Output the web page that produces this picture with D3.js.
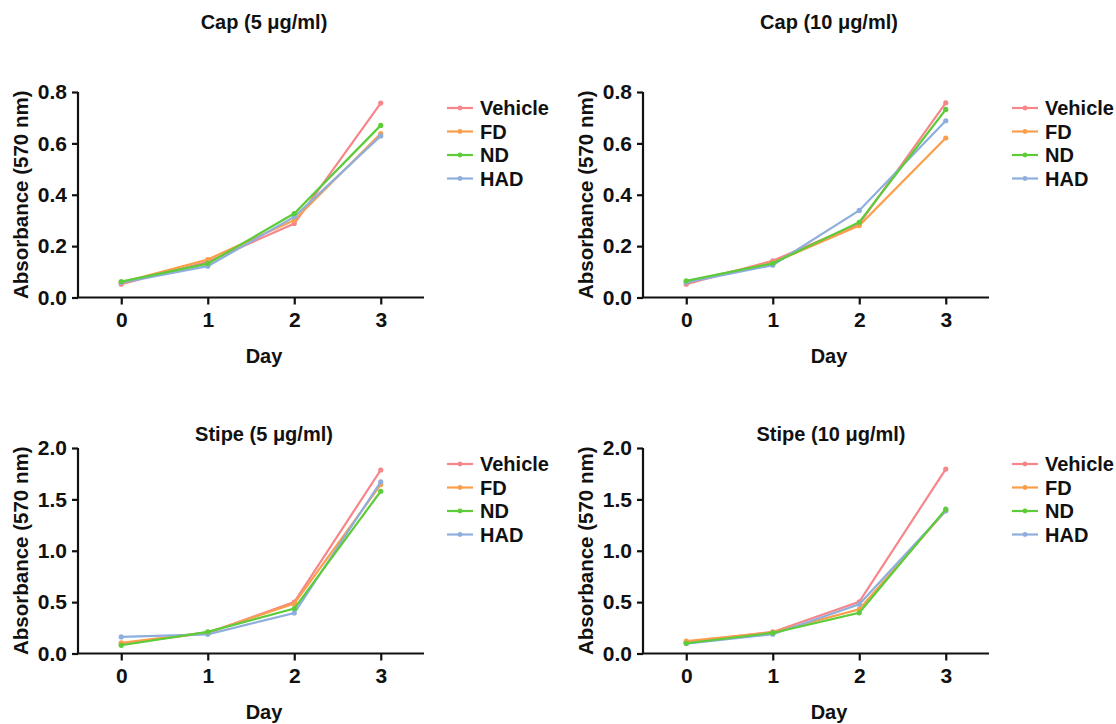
<!DOCTYPE html>
<html><head><meta charset="utf-8">
<script src="https://cdn.jsdelivr.net/npm/d3@7"></script>
<style>
body{margin:0;background:#fff;}
text{font-family:"Liberation Sans",Arial,sans-serif;font-weight:bold;fill:#111;}
</style></head>
<body><svg id="c" width="1116" height="724"></svg>
<script>
const days = [0, 1, 2, 3];
const seriesNames = ["Vehicle", "FD", "ND", "HAD"];
const colors = ["#f7868a", "#fb9e4c", "#5ccc38", "#8eaedd"];
const panelTitles = ["Cap (5 μg/ml)", "Cap (10 μg/ml)", "Stipe (5 μg/ml)", "Stipe (10 μg/ml)"];
const yMaxes = [0.8, 0.8, 2.0, 2.0];
const yTicksCap = [0, 0.2, 0.4, 0.6, 0.8];
const yTicksStipe = [0, 0.5, 1.0, 1.5, 2.0];

// values per panel: [Vehicle, FD, ND, HAD]
const cap5 = [
  [0.052, 0.139, 0.288, 0.757],
  [0.058, 0.148, 0.301, 0.638],
  [0.062, 0.132, 0.327, 0.670],
  [0.058, 0.122, 0.314, 0.629]
];
const cap10 = [
  [0.052, 0.143, 0.287, 0.758],
  [0.062, 0.135, 0.280, 0.621],
  [0.065, 0.133, 0.293, 0.732],
  [0.059, 0.126, 0.339, 0.688]
];
const stipe5 = [
  [0.096, 0.200, 0.500, 1.786],
  [0.103, 0.205, 0.485, 1.644],
  [0.080, 0.210, 0.437, 1.579],
  [0.161, 0.187, 0.394, 1.670]
];
const stipe10 = [
  [0.110, 0.210, 0.503, 1.795],
  [0.120, 0.205, 0.430, 1.390],
  [0.100, 0.200, 0.396, 1.405],
  [0.097, 0.188, 0.480, 1.389]
];

const panelData = [cap5, cap10, stipe5, stipe10];
const panelTicks = [yTicksCap, yTicksCap, yTicksStipe, yTicksStipe];
const origins = [[0, 0], [565, 0], [0, 356], [565, 356]];
const titleY = [22, 22, 78, 78];
const titleX = [264, 264, 264, 266];

const svg = d3.select("#c");
const drawOrder = [0, 1, 3, 2];

panelData.forEach((data, p) => {
  const [ox, oy] = origins[p];
  const g = svg.append("g").attr("transform", `translate(${ox},${oy})`);
  const x = d3.scaleLinear().domain([-0.5, 3.5]).range([78, 424]);
  const y = d3.scaleLinear().domain([0, yMaxes[p]]).range([297.5, 92]);

  const yAx = g.append("g").attr("transform", "translate(78,0)")
    .call(d3.axisLeft(y).tickValues(panelTicks[p]).tickFormat(d3.format(".1f")).tickSize(6).tickPadding(5));
  const xAx = g.append("g").attr("transform", "translate(0,297.5)")
    .call(d3.axisBottom(x).tickValues(days).tickFormat(d3.format("d")).tickSize(7).tickPadding(8));
  [yAx, xAx].forEach(a => {
    a.select(".domain").attr("stroke", "#111").attr("stroke-width", 2.2);
    a.selectAll(".tick line").attr("stroke", "#111").attr("stroke-width", 2.2);
    a.selectAll(".tick text").attr("font-size", 21).attr("fill", "#111")
      .style("font-family", "'Liberation Sans',Arial,sans-serif").style("font-weight", "bold");
  });
  yAx.select(".domain").attr("d", "M0,297.5V92");
  xAx.select(".domain").attr("d", `M78,0H424`);

  g.append("text").attr("x", titleX[p]).attr("y", titleY[p]).attr("dy", "0.35em")
    .attr("text-anchor", "middle").attr("font-size", 20).text(panelTitles[p]);
  g.append("text").attr("x", 264).attr("y", 356).attr("dy", "0.35em")
    .attr("text-anchor", "middle").attr("font-size", 20).text("Day");
  g.append("text").attr("transform", `translate(21,${(92 + 297.5) / 2}) rotate(-90)`)
    .attr("dy", "0.35em").attr("text-anchor", "middle").attr("font-size", 20.5)
    .text("Absorbance (570 nm)");

  const line = d3.line().x((d, i) => x(days[i])).y(d => y(d));
  drawOrder.forEach(s => {
    g.append("path").datum(data[s]).attr("d", line)
      .attr("fill", "none").attr("stroke", colors[s]).attr("stroke-width", 2.2);
    g.selectAll(null).data(data[s]).enter().append("circle")
      .attr("cx", (d, i) => x(days[i])).attr("cy", d => y(d)).attr("r", 2.6)
      .attr("fill", colors[s]);
  });

  const leg = g.append("g");
  seriesNames.forEach((n, i) => {
    const ly = 108 + i * 23.5;
    leg.append("line").attr("x1", 447).attr("x2", 473).attr("y1", ly).attr("y2", ly)
      .attr("stroke", colors[i]).attr("stroke-width", 2.2);
    leg.append("circle").attr("cx", 460).attr("cy", ly).attr("r", 2.4).attr("fill", colors[i]);
    leg.append("text").attr("x", 480).attr("y", ly).attr("dy", "0.36em")
      .attr("font-size", 20).text(n);
  });
});
</script></body></html>
